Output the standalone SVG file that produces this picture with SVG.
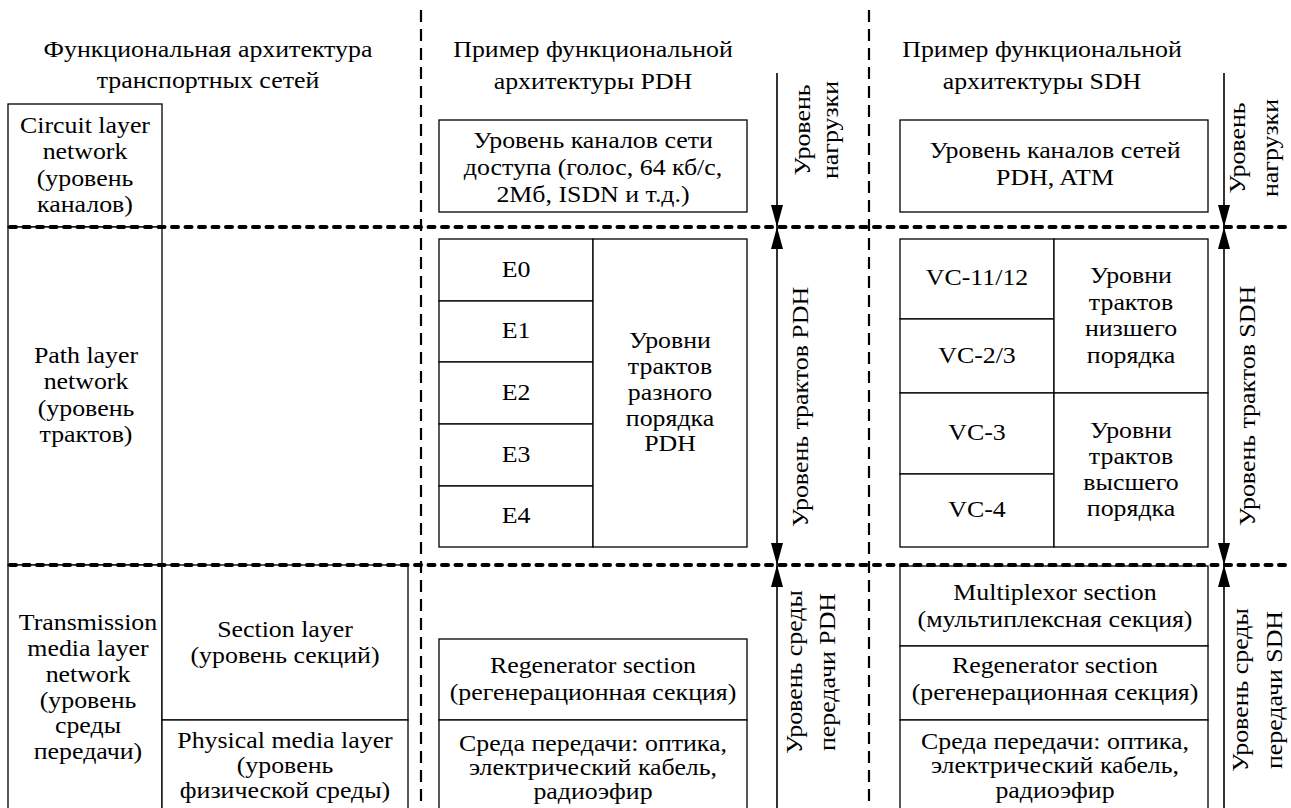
<svg xmlns="http://www.w3.org/2000/svg" width="1291" height="808" viewBox="0 0 1291 808">
<style>
.t{font-size:22.5px;fill:#000;text-anchor:middle}
.b{fill:#fff;stroke:#000;stroke-width:1.3}
.dot{stroke:#000;stroke-width:4;stroke-linecap:round;stroke-dasharray:6 7.5;fill:none}
.dash{stroke:#000;stroke-width:2.2;stroke-dasharray:12 7;fill:none}
.arr{stroke:#000;stroke-width:1.6;fill:none}
</style>
<defs>
<marker id="ah" viewBox="0 0 22 12" refX="22" refY="6" markerWidth="22" markerHeight="12" markerUnits="userSpaceOnUse" orient="auto-start-reverse">
<path d="M0,0 L22,6 L0,12 z" fill="#000"/>
</marker>
</defs>
<rect width="1291" height="808" fill="#fff"/>
<g font-family="'Liberation Serif', 'DejaVu Serif', serif">
<g id="headers">
<text class="t" transform="translate(208,57) scale(1.15,1)"><tspan x="0">Функциональная архитектура</tspan><tspan x="0" dy="31.5">транспортных сетей</tspan></text>
<text class="t" transform="translate(593,57) scale(1.15,1)"><tspan x="0">Пример функциональной</tspan><tspan x="0" dy="32">архитектуры PDH</tspan></text>
<text class="t" transform="translate(1042,57) scale(1.15,1)"><tspan x="0">Пример функциональной</tspan><tspan x="0" dy="32">архитектуры SDH</tspan></text>
</g>

<g id="circuit-layer">
<rect class="b" x="8" y="104" width="154" height="123"/>
<text class="t" transform="translate(85,133) scale(1.15,1)"><tspan x="0">Circuit layer</tspan><tspan x="0" dy="26.3">network</tspan><tspan x="0" dy="26.3">(уровень</tspan><tspan x="0" dy="26.3">каналов)</tspan></text>
</g>
<g id="path-layer">
<rect class="b" x="8" y="227" width="154" height="338"/>
<text class="t" transform="translate(86,363) scale(1.15,1)"><tspan x="0">Path layer</tspan><tspan x="0" dy="26.3">network</tspan><tspan x="0" dy="26.3">(уровень</tspan><tspan x="0" dy="26.3">трактов)</tspan></text>
</g>
<g id="transmission-layer">
<rect class="b" x="8" y="565" width="154" height="260"/>
<text class="t" transform="translate(88,630) scale(1.15,1)"><tspan x="0">Transmission</tspan><tspan x="0" dy="26">media layer</tspan><tspan x="0" dy="26">network</tspan><tspan x="0" dy="26">(уровень</tspan><tspan x="0" dy="25.5">среды</tspan><tspan x="0" dy="26">передачи)</tspan></text>
</g>
<g id="section-layer">
<rect class="b" x="162" y="565" width="246" height="155"/>
<text class="t" transform="translate(285,637) scale(1.15,1)"><tspan x="0">Section layer</tspan><tspan x="0" dy="26">(уровень секций)</tspan></text>
</g>
<g id="physical-layer">
<rect class="b" x="162" y="720" width="246" height="100"/>
<text class="t" transform="translate(285,748) scale(1.15,1)"><tspan x="0">Physical media layer</tspan><tspan x="0" dy="25">(уровень</tspan><tspan x="0" dy="25">физической среды)</tspan></text>
</g>

<g id="pdh-circuit">
<rect class="b" x="439" y="120" width="308" height="92"/>
<text class="t" transform="translate(593,148) scale(1.15,1)"><tspan x="0">Уровень каналов сети</tspan><tspan x="0" dy="27">доступа (голос, 64 кб/с,</tspan><tspan x="0" dy="27">2Мб, ISDN и т.д.)</tspan></text>
</g>
<g id="pdh-path">
<rect class="b" x="439" y="239" width="154" height="62"/>
<rect class="b" x="439" y="301" width="154" height="61"/>
<rect class="b" x="439" y="362" width="154" height="62"/>
<rect class="b" x="439" y="424" width="154" height="62"/>
<rect class="b" x="439" y="486" width="154" height="61"/>
<rect class="b" x="593" y="239" width="154" height="308"/>
<text class="t" transform="translate(516,277) scale(1.15,1)">E0</text>
<text class="t" transform="translate(516,338) scale(1.15,1)">E1</text>
<text class="t" transform="translate(516,400) scale(1.15,1)">E2</text>
<text class="t" transform="translate(516,462) scale(1.15,1)">E3</text>
<text class="t" transform="translate(516,523) scale(1.15,1)">E4</text>
<text class="t" transform="translate(670,348) scale(1.15,1)"><tspan x="0">Уровни</tspan><tspan x="0" dy="26">трактов</tspan><tspan x="0" dy="26">разного</tspan><tspan x="0" dy="26">порядка</tspan><tspan x="0" dy="25">PDH</tspan></text>
</g>
<g id="pdh-media">
<rect class="b" x="439" y="639" width="308" height="81"/>
<rect class="b" x="439" y="720" width="308" height="100"/>
<text class="t" transform="translate(593,673) scale(1.15,1)"><tspan x="0">Regenerator section</tspan><tspan x="0" dy="27">(регенерационная секция)</tspan></text>
<text class="t" transform="translate(593,751) scale(1.15,1)"><tspan x="0">Среда передачи: оптика,</tspan><tspan x="0" dy="24">электрический кабель,</tspan><tspan x="0" dy="24.5">радиоэфир</tspan></text>
</g>

<g id="sdh-circuit">
<rect class="b" x="900" y="120" width="308" height="92"/>
<text class="t" transform="translate(1055,158) scale(1.15,1)"><tspan x="0">Уровень каналов сетей</tspan><tspan x="0" dy="27">PDH, ATM</tspan></text>
</g>
<g id="sdh-path">
<rect class="b" x="900" y="239" width="154" height="80"/>
<rect class="b" x="900" y="319" width="154" height="74"/>
<rect class="b" x="900" y="393" width="154" height="81"/>
<rect class="b" x="900" y="474" width="154" height="73"/>
<rect class="b" x="1054" y="239" width="154" height="154"/>
<rect class="b" x="1054" y="393" width="154" height="154"/>
<text class="t" transform="translate(977,285) scale(1.15,1)">VC-11/12</text>
<text class="t" transform="translate(977,363) scale(1.15,1)">VC-2/3</text>
<text class="t" transform="translate(977,440) scale(1.15,1)">VC-3</text>
<text class="t" transform="translate(977,517) scale(1.15,1)">VC-4</text>
<text class="t" transform="translate(1131,283) scale(1.15,1)"><tspan x="0">Уровни</tspan><tspan x="0" dy="26.7">трактов</tspan><tspan x="0" dy="26.7">низшего</tspan><tspan x="0" dy="26.3">порядка</tspan></text>
<text class="t" transform="translate(1131,438) scale(1.15,1)"><tspan x="0">Уровни</tspan><tspan x="0" dy="26">трактов</tspan><tspan x="0" dy="26.5">высшего</tspan><tspan x="0" dy="26">порядка</tspan></text>
</g>
<g id="sdh-media">
<rect class="b" x="900" y="566" width="308" height="80"/>
<rect class="b" x="900" y="646" width="308" height="74"/>
<rect class="b" x="900" y="720" width="308" height="100"/>
<text class="t" transform="translate(1055,600) scale(1.15,1)"><tspan x="0">Multiplexor section</tspan><tspan x="0" dy="27">(мультиплексная секция)</tspan></text>
<text class="t" transform="translate(1055,673) scale(1.15,1)"><tspan x="0">Regenerator section</tspan><tspan x="0" dy="27">(регенерационная секция)</tspan></text>
<text class="t" transform="translate(1055,749) scale(1.15,1)"><tspan x="0">Среда передачи: оптика,</tspan><tspan x="0" dy="24.5">электрический кабель,</tspan><tspan x="0" dy="24.5">радиоэфир</tspan></text>
</g>

<g id="separators">
<line class="dot" x1="10" y1="227" x2="1286" y2="227"/>
<line class="dot" x1="10" y1="565" x2="1286" y2="565"/>
<line class="dash" x1="421" y1="10" x2="421" y2="808"/>
<line class="dash" x1="869" y1="10" x2="869" y2="808"/>
</g>

<g id="connectors">
<line class="arr" x1="777" y1="73" x2="777" y2="227" marker-end="url(#ah)"/>
<line class="arr" x1="777" y1="227" x2="777" y2="565" marker-start="url(#ah)" marker-end="url(#ah)"/>
<line class="arr" x1="777" y1="808" x2="777" y2="565" marker-end="url(#ah)"/>
<line class="arr" x1="1224" y1="73" x2="1224" y2="227" marker-end="url(#ah)"/>
<line class="arr" x1="1224" y1="227" x2="1224" y2="565" marker-start="url(#ah)" marker-end="url(#ah)"/>
<line class="arr" x1="1224" y1="808" x2="1224" y2="565" marker-end="url(#ah)"/>
</g>

<g id="level-labels">
<text class="t" transform="translate(810,130) rotate(-90) scale(1.15,1)"><tspan x="0">Уровень</tspan><tspan x="0" dy="28">нагрузки</tspan></text>
<text class="t" transform="translate(1245,148) rotate(-90) scale(1.15,1)"><tspan x="0">Уровень</tspan><tspan x="0" dy="33">нагрузки</tspan></text>
<text class="t" transform="translate(808,407) rotate(-90) scale(1.15,1)">Уровень трактов PDH</text>
<text class="t" transform="translate(1255,406) rotate(-90) scale(1.15,1)">Уровень трактов SDH</text>
<text class="t" transform="translate(802,672) rotate(-90) scale(1.15,1)"><tspan x="0">Уровень среды</tspan><tspan x="0" dy="33">передачи PDH</tspan></text>
<text class="t" transform="translate(1248,690) rotate(-90) scale(1.15,1)"><tspan x="0">Уровень среды</tspan><tspan x="0" dy="34">передачи SDH</tspan></text>
</g>
</g>
</svg>
